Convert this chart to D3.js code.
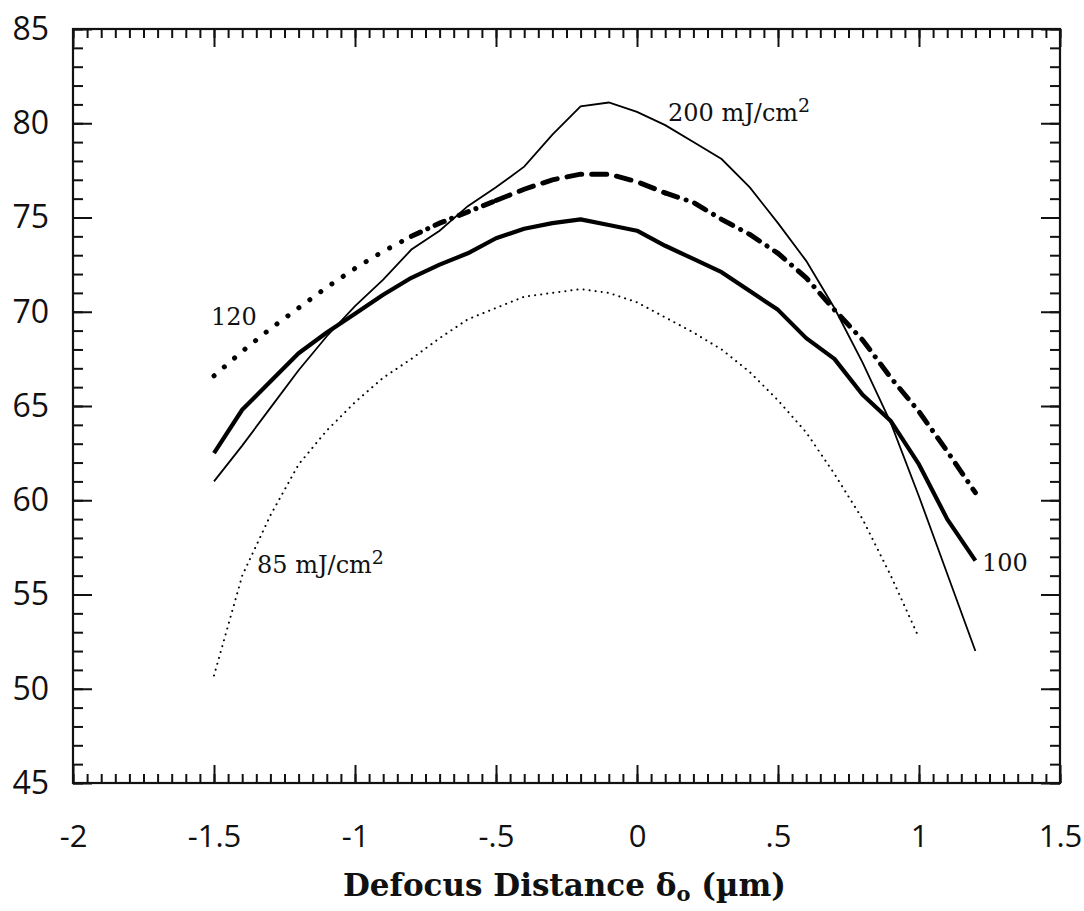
<!DOCTYPE html>
<html>
<head>
<meta charset="utf-8">
<title></title>
<style>
  body { margin: 0; background: #fff; }
  svg { display: block; }
</style>
</head>
<body>
<svg id="chart"></svg>
<script src="https://d3js.org/d3.v7.min.js"></script>
<script type="text/javascript">
// defocus positions (um)
const defocus = [-1.5, -1.4, -1.3, -1.2, -1.1, -1.0, -0.9, -0.8, -0.7, -0.6, -0.5, -0.4, -0.3, -0.2, -0.1,
    0.0, 0.1, 0.2, 0.3, 0.4, 0.5, 0.6, 0.7, 0.8, 0.9, 1.0, 1.1, 1.2];

// one value per defocus position
const dose200 = [61.0, 62.9, 64.9, 66.9, 68.7, 70.3, 71.7, 73.3, 74.3, 75.6, 76.6, 77.7, 79.4, 80.9, 81.1,
    80.6, 79.9, 79.0, 78.1, 76.6, 74.7, 72.7, 70.2, 67.3, 64.1, 60.2, 56.1, 52.0];
const dose120 = [66.6, 67.9, 69.1, 70.2, 71.3, 72.3, 73.2, 74.0, 74.7, 75.3, 75.9, 76.5, 77.0, 77.3, 77.3,
    76.9, 76.3, 75.8, 74.9, 74.1, 73.1, 71.8, 70.1, 68.5, 66.5, 64.7, 62.6, 60.4];
const dose100 = [62.5, 64.8, 66.3, 67.8, 68.9, 69.9, 70.9, 71.8, 72.5, 73.1, 73.9, 74.4, 74.7, 74.9, 74.6,
    74.3, 73.5, 72.8, 72.1, 71.1, 70.1, 68.6, 67.5, 65.6, 64.2, 61.9, 59.0, 56.8];
// 85 mJ/cm2 stops at 1.0
const dose85 = [50.7, 56.0, 59.2, 61.9, 63.7, 65.2, 66.5, 67.5, 68.6, 69.6, 70.2, 70.8, 71.0, 71.2, 71.0,
    70.5, 69.7, 68.9, 68.0, 66.8, 65.3, 63.6, 61.4, 59.0, 56.0, 52.7];

const xMajor = [-2, -1.5, -1, -0.5, 0, 0.5, 1, 1.5];
const xLabels = ["-2", "-1.5", "-1", "-.5", "0", ".5", "1", "1.5"];
const yMajor = [45, 50, 55, 60, 65, 70, 75, 80, 85];

const width = 1084, height = 911;
const plotL = 73, plotR = 1060, plotT = 29, plotB = 783;

const svg = d3.select("#chart")
    .attr("width", width)
    .attr("height", height);

const x = d3.scaleLinear().domain([-2, 1.5]).range([plotL, plotR]);
const y = d3.scaleLinear().domain([45, 85]).range([plotB, plotT]);

const xMinor = d3.range(-2, 1.5001, 0.05).map(d => +d.toFixed(2));
const yMinor = d3.range(45, 85.001, 1);

const tickFont = "'Open Sans', sans-serif";

// minor ticks, all four sides pointing inward
svg.append("g").attr("transform", `translate(0,${plotB})`)
    .call(d3.axisBottom(x).tickValues(xMinor).tickSize(-9).tickFormat(""));
svg.append("g").attr("transform", `translate(0,${plotT})`)
    .call(d3.axisTop(x).tickValues(xMinor).tickSize(-9).tickFormat(""));
svg.append("g").attr("transform", `translate(${plotL},0)`)
    .call(d3.axisLeft(y).tickValues(yMinor).tickSize(-10).tickFormat(""));
svg.append("g").attr("transform", `translate(${plotR},0)`)
    .call(d3.axisRight(y).tickValues(yMinor).tickSize(-10).tickFormat(""));

// major ticks with labels
svg.append("g").attr("class", "xlab").attr("transform", `translate(0,${plotB})`)
    .call(d3.axisBottom(x).tickValues(xMajor).tickSize(-18).tickPadding(42)
        .tickFormat((d, i) => xLabels[i]));
svg.append("g").attr("transform", `translate(0,${plotT})`)
    .call(d3.axisTop(x).tickValues(xMajor).tickSize(-18).tickFormat(""));
svg.append("g").attr("class", "ylab").attr("transform", `translate(${plotL},0)`)
    .call(d3.axisLeft(y).tickValues(yMajor).tickSize(-19).tickPadding(24));
svg.append("g").attr("transform", `translate(${plotR},0)`)
    .call(d3.axisRight(y).tickValues(yMajor).tickSize(-19).tickFormat(""));

svg.selectAll(".domain").remove();
svg.selectAll(".tick line").attr("stroke", "#111").attr("stroke-width", 2);
svg.selectAll(".xlab text, .ylab text")
    .attr("fill", "#111")
    .style("font-family", tickFont)
    .style("font-size", "31px");
svg.selectAll(".ylab text").style("font-size", "32px");

// frame
svg.append("rect")
    .attr("x", plotL).attr("y", plotT)
    .attr("width", plotR - plotL).attr("height", plotB - plotT)
    .attr("fill", "none").attr("stroke", "#111").attr("stroke-width", 2.2);

const line = d3.line()
    .x(d => x(d[0]))
    .y(d => y(d[1]));

const pts = vals => vals.map((v, i) => [defocus[i], v]);
const curves = svg.append("g").attr("fill", "none").attr("stroke", "#000");

// 200 mJ/cm2: thin solid
curves.append("path")
    .attr("d", line(pts(dose200)))
    .attr("stroke-width", 1.8);

// 100 mJ/cm2: heavy solid
curves.append("path")
    .attr("d", line(pts(dose100)))
    .attr("stroke-width", 4.2)
    .attr("stroke-linejoin", "round");

// 85 mJ/cm2: fine dots
curves.append("path")
    .attr("d", line(pts(dose85)))
    .attr("stroke-width", 2)
    .attr("stroke-linecap", "round")
    .attr("stroke-dasharray", "0.1,6");

// 120 mJ/cm2: dots on the left, dashes near the top, dash-dot on the right
const seg120 = [
    { from: -1.5, to: -0.8, dash: "0.1,13.5" },
    { from: -0.8, to: -0.5, dash: "10,8,0.1,8" },
    { from: -0.5, to: 0.1, dash: "15,10" },
    { from: 0.1, to: 1.2, dash: "13,9,0.1,9" }
];
seg120.forEach(s => {
    const part = pts(dose120).filter(p => p[0] >= s.from - 1e-9 && p[0] <= s.to + 1e-9);
    curves.append("path")
        .attr("d", line(part))
        .attr("stroke-width", 5)
        .attr("stroke-linecap", "round")
        .attr("stroke-dasharray", s.dash);
});

// curve labels
const labFont = "'DejaVu Serif', serif";
function label(tx, ty, main, sup) {
    const t = svg.append("text")
        .attr("x", tx).attr("y", ty)
        .style("font-family", labFont)
        .style("font-size", "24px")
        .attr("fill", "#111")
        .text(main);
    if (sup) {
        t.append("tspan").attr("dy", -9).style("font-size", "19px").text(sup);
    }
}
label(668, 121, "200 mJ/cm", "2");
label(211, 325, "120");
label(982, 571, "100");
label(257, 573, "85 mJ/cm", "2");

// axis title
const title = svg.append("text")
    .attr("x", (plotL + plotR) / 2 - 2)
    .attr("y", 896)
    .attr("text-anchor", "middle")
    .style("font-family", labFont)
    .style("font-weight", "bold")
    .style("font-size", "31px")
    .attr("fill", "#111");
title.append("tspan").text("Defocus Distance δ");
title.append("tspan").attr("dy", 5).style("font-size", "21px").text("o");
title.append("tspan").attr("dy", -5).text(" (µm)");
</script>
</body>
</html>
